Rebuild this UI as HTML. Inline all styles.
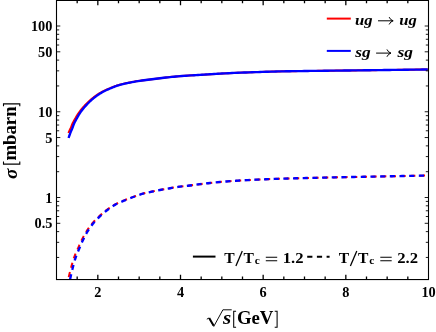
<!DOCTYPE html>
<html><head><meta charset="utf-8"><title>chart</title>
<style>html,body{margin:0;padding:0;background:#fff;}body{width:436px;height:332px;overflow:hidden;font-family:"Liberation Serif",serif;}svg{display:block;will-change:transform;}</style>
</head><body>
<svg width="436" height="332" viewBox="0 0 436 332">
<rect width="436" height="332" fill="#fff"/>
<defs><clipPath id="c"><rect x="56.5" y="0" width="372.0" height="279.5"/></clipPath></defs>
<g clip-path="url(#c)" fill="none" stroke-width="2.35" stroke-linejoin="round">
<path d="M68.47,133.00 L69.01,131.66 L69.56,130.43 L70.10,129.27 L70.62,128.13 L71.13,126.92 L71.66,125.57 L72.20,124.18 L72.76,122.95 L73.31,121.87 L73.85,120.87 L74.39,119.94 L74.91,119.04 L75.44,118.16 L75.96,117.26 L76.49,116.37 L77.02,115.50 L77.55,114.63 L78.08,113.79 L78.61,112.98 L79.15,112.21 L79.68,111.48 L80.21,110.77 L80.73,110.08 L81.26,109.42 L81.79,108.78 L82.31,108.15 L82.84,107.55 L83.36,106.95 L83.89,106.38 L84.41,105.83 L84.93,105.28 L85.45,104.75 L85.96,104.23 L86.48,103.71 L86.99,103.20 L87.51,102.69 L88.02,102.18 L88.54,101.68 L89.06,101.18 L89.58,100.70 L90.10,100.24 L90.62,99.79 L91.13,99.35 L91.64,98.92 L92.16,98.50 L92.67,98.08 L93.18,97.67 L93.70,97.27 L94.21,96.87 L94.72,96.49 L95.24,96.11 L95.75,95.74 L96.26,95.38 L96.78,95.04 L97.29,94.70 L97.80,94.37 L98.31,94.04 L98.82,93.72 L99.33,93.41 L99.84,93.10 L100.35,92.80 L100.86,92.51 L101.36,92.22 L101.87,91.94 L102.38,91.66 L102.89,91.39 L103.40,91.13 L103.91,90.87 L104.41,90.62 L104.92,90.38 L105.43,90.14 L105.93,89.91 L106.44,89.68 L106.95,89.46 L107.45,89.24 L107.96,89.03 L108.46,88.81 L108.96,88.60 L109.47,88.40 L109.97,88.19 L110.48,87.99 L110.98,87.78 L111.48,87.58 L111.98,87.38 L112.49,87.17 L112.99,86.97 L113.49,86.77 L114.00,86.58 L114.50,86.38 L115.00,86.20 L115.51,86.01 L116.01,85.83 L116.52,85.66 L117.02,85.50 L117.53,85.34 L118.03,85.19 L118.53,85.04 L119.04,84.90 L119.54,84.76 L120.04,84.62 L120.54,84.49 L121.05,84.36 L121.55,84.23 L122.05,84.11 L122.55,83.98 L123.05,83.87 L123.56,83.75 L124.06,83.63 L124.56,83.52 L125.06,83.41 L125.56,83.30 L126.06,83.19 L126.57,83.08 L127.07,82.98 L127.57,82.88 L128.07,82.78 L128.57,82.68 L129.07,82.58 L129.57,82.49 L129.97,82.41 L131.98,82.04 L133.98,81.67 L135.98,81.31 L137.98,80.99 L139.99,80.70 L141.99,80.42 L143.99,80.17 L145.99,79.92 L147.99,79.70 L149.99,79.47 L151.99,79.23 L153.99,78.97 L155.99,78.71 L157.99,78.44 L159.99,78.19 L162.00,77.94 L164.00,77.71 L166.00,77.49 L168.00,77.28 L170.00,77.07 L172.00,76.87 L174.00,76.68 L176.00,76.50 L178.00,76.33 L180.00,76.16 L182.00,76.00 L184.00,75.84 L186.00,75.69 L188.00,75.56 L190.00,75.43 L192.00,75.32 L194.00,75.21 L196.00,75.11 L198.00,75.00 L200.00,74.89 L202.00,74.78 L204.00,74.66 L206.00,74.54 L208.00,74.41 L210.00,74.28 L212.00,74.16 L214.00,74.03 L216.00,73.90 L218.00,73.78 L220.00,73.66 L222.00,73.54 L224.00,73.43 L226.00,73.32 L228.00,73.22 L230.00,73.13 L232.00,73.04 L234.00,72.95 L236.00,72.86 L238.00,72.78 L240.00,72.70 L242.00,72.62 L244.00,72.54 L246.00,72.47 L248.00,72.39 L250.00,72.32 L252.00,72.25 L254.00,72.18 L256.00,72.12 L258.00,72.05 L260.00,71.98 L262.00,71.92 L264.00,71.85 L266.00,71.79 L268.00,71.72 L270.00,71.66 L272.00,71.61 L274.00,71.55 L276.00,71.50 L278.00,71.45 L280.00,71.40 L282.00,71.36 L284.00,71.32 L286.00,71.29 L288.00,71.25 L290.00,71.22 L292.00,71.19 L294.00,71.16 L296.00,71.13 L298.00,71.10 L300.00,71.08 L302.00,71.05 L304.00,71.03 L306.00,71.00 L308.00,70.98 L310.00,70.95 L312.00,70.93 L314.00,70.90 L316.00,70.88 L318.00,70.85 L320.00,70.82 L322.00,70.80 L324.00,70.77 L326.00,70.75 L328.00,70.72 L330.00,70.70 L332.00,70.67 L334.00,70.65 L336.00,70.62 L338.00,70.60 L340.00,70.58 L342.00,70.55 L344.00,70.53 L346.00,70.50 L348.00,70.48 L350.00,70.46 L352.00,70.43 L354.00,70.41 L356.00,70.38 L358.00,70.36 L360.00,70.34 L362.00,70.31 L364.00,70.29 L366.00,70.26 L368.00,70.24 L370.00,70.21 L372.00,70.19 L374.00,70.16 L376.00,70.14 L378.00,70.11 L380.00,70.08 L382.00,70.06 L384.00,70.03 L386.00,70.01 L388.00,69.98 L390.00,69.96 L392.00,69.93 L394.00,69.90 L396.00,69.88 L398.00,69.85 L400.00,69.82 L402.00,69.80 L404.00,69.77 L406.00,69.74 L408.00,69.72 L410.00,69.69 L412.00,69.66 L414.00,69.64 L416.00,69.61 L418.00,69.58 L420.00,69.56 L422.00,69.53 L424.00,69.50 L426.00,69.47 L427.80,69.45" stroke="#f00" stroke-width="2"/>
<path d="M68.60,138.00 L69.10,136.47 L69.60,135.00 L70.10,133.60 L70.60,132.29 L71.10,131.07 L71.60,129.91 L72.10,128.74 L72.60,127.48 L73.10,126.09 L73.60,124.73 L74.10,123.55 L74.60,122.50 L75.10,121.53 L75.60,120.60 L76.10,119.70 L76.60,118.80 L77.10,117.90 L77.60,117.00 L78.10,116.12 L78.60,115.25 L79.10,114.42 L79.60,113.61 L80.10,112.85 L80.60,112.12 L81.10,111.41 L81.60,110.72 L82.10,110.06 L82.60,109.42 L83.10,108.79 L83.60,108.18 L84.10,107.59 L84.60,107.01 L85.10,106.45 L85.60,105.90 L86.10,105.36 L86.60,104.83 L87.10,104.31 L87.60,103.78 L88.10,103.26 L88.60,102.74 L89.10,102.23 L89.60,101.73 L90.10,101.25 L90.60,100.78 L91.10,100.33 L91.60,99.89 L92.10,99.45 L92.60,99.02 L93.10,98.59 L93.60,98.17 L94.10,97.77 L94.60,97.36 L95.10,96.97 L95.60,96.59 L96.10,96.22 L96.60,95.85 L97.10,95.50 L97.60,95.15 L98.10,94.82 L98.60,94.48 L99.10,94.16 L99.60,93.84 L100.10,93.53 L100.60,93.22 L101.10,92.92 L101.60,92.62 L102.10,92.34 L102.60,92.05 L103.10,91.78 L103.60,91.51 L104.10,91.25 L104.60,90.99 L105.10,90.74 L105.60,90.50 L106.10,90.26 L106.60,90.03 L107.10,89.80 L107.60,89.57 L108.10,89.35 L108.60,89.13 L109.10,88.92 L109.60,88.71 L110.10,88.49 L110.60,88.28 L111.10,88.07 L111.60,87.86 L112.10,87.66 L112.60,87.45 L113.10,87.24 L113.60,87.04 L114.10,86.84 L114.60,86.64 L115.10,86.45 L115.60,86.26 L116.10,86.08 L116.60,85.90 L117.10,85.73 L117.60,85.57 L118.10,85.41 L118.60,85.26 L119.10,85.11 L119.60,84.97 L120.10,84.83 L120.60,84.69 L121.10,84.56 L121.60,84.43 L122.10,84.30 L122.60,84.17 L123.10,84.05 L123.60,83.93 L124.10,83.81 L124.60,83.69 L125.10,83.58 L125.60,83.47 L126.10,83.35 L126.60,83.25 L127.10,83.14 L127.60,83.04 L128.10,82.93 L128.60,82.83 L129.10,82.73 L129.60,82.63 L130.00,82.55 L132.00,82.17 L134.00,81.79 L136.00,81.42 L138.00,81.09 L140.00,80.79 L142.00,80.51 L144.00,80.25 L146.00,80.00 L148.00,79.76 L150.00,79.53 L152.00,79.28 L154.00,79.02 L156.00,78.75 L158.00,78.49 L160.00,78.23 L162.00,77.98 L164.00,77.75 L166.00,77.52 L168.00,77.31 L170.00,77.10 L172.00,76.90 L174.00,76.71 L176.00,76.52 L178.00,76.35 L180.00,76.18 L182.00,76.01 L184.00,75.86 L186.00,75.71 L188.00,75.57 L190.00,75.44 L192.00,75.33 L194.00,75.22 L196.00,75.11 L198.00,75.01 L200.00,74.90 L202.00,74.79 L204.00,74.67 L206.00,74.54 L208.00,74.42 L210.00,74.29 L212.00,74.16 L214.00,74.03 L216.00,73.90 L218.00,73.78 L220.00,73.66 L222.00,73.54 L224.00,73.43 L226.00,73.32 L228.00,73.23 L230.00,73.13 L232.00,73.04 L234.00,72.95 L236.00,72.87 L238.00,72.78 L240.00,72.70 L242.00,72.62 L244.00,72.54 L246.00,72.47 L248.00,72.39 L250.00,72.32 L252.00,72.25 L254.00,72.18 L256.00,72.12 L258.00,72.05 L260.00,71.98 L262.00,71.92 L264.00,71.85 L266.00,71.79 L268.00,71.72 L270.00,71.66 L272.00,71.61 L274.00,71.55 L276.00,71.50 L278.00,71.45 L280.00,71.40 L282.00,71.36 L284.00,71.32 L286.00,71.29 L288.00,71.25 L290.00,71.22 L292.00,71.19 L294.00,71.16 L296.00,71.13 L298.00,71.10 L300.00,71.08 L302.00,71.05 L304.00,71.03 L306.00,71.00 L308.00,70.98 L310.00,70.95 L312.00,70.93 L314.00,70.90 L316.00,70.88 L318.00,70.85 L320.00,70.82 L322.00,70.80 L324.00,70.77 L326.00,70.75 L328.00,70.72 L330.00,70.70 L332.00,70.67 L334.00,70.65 L336.00,70.62 L338.00,70.60 L340.00,70.58 L342.00,70.55 L344.00,70.53 L346.00,70.50 L348.00,70.48 L350.00,70.46 L352.00,70.43 L354.00,70.41 L356.00,70.38 L358.00,70.36 L360.00,70.34 L362.00,70.31 L364.00,70.29 L366.00,70.26 L368.00,70.24 L370.00,70.21 L372.00,70.19 L374.00,70.16 L376.00,70.14 L378.00,70.11 L380.00,70.08 L382.00,70.06 L384.00,70.03 L386.00,70.01 L388.00,69.98 L390.00,69.96 L392.00,69.93 L394.00,69.90 L396.00,69.88 L398.00,69.85 L400.00,69.82 L402.00,69.80 L404.00,69.77 L406.00,69.74 L408.00,69.72 L410.00,69.69 L412.00,69.66 L414.00,69.64 L416.00,69.61 L418.00,69.58 L420.00,69.56 L422.00,69.53 L424.00,69.50 L426.00,69.47 L427.80,69.45" stroke="#00f"/>
<path d="M67.54,282.64 L68.08,280.05 L68.61,277.57 L69.15,275.24 L69.69,273.00 L70.22,270.84 L70.76,268.76 L71.30,266.77 L71.83,264.86 L72.36,262.99 L72.90,261.18 L73.43,259.46 L73.97,257.83 L74.51,256.34 L75.05,254.95 L75.58,253.66 L76.11,252.44 L76.64,251.27 L77.17,250.12 L77.69,248.96 L78.21,247.78 L78.73,246.59 L79.25,245.39 L79.78,244.21 L80.30,243.04 L80.83,241.89 L81.36,240.78 L81.88,239.71 L82.40,238.67 L82.93,237.65 L83.45,236.65 L83.97,235.67 L84.50,234.71 L85.02,233.78 L85.54,232.88 L86.07,232.01 L86.59,231.18 L87.11,230.37 L87.63,229.58 L88.15,228.81 L88.67,228.06 L89.19,227.32 L89.71,226.61 L90.23,225.91 L90.75,225.24 L91.27,224.58 L91.79,223.94 L92.31,223.31 L92.82,222.71 L93.34,222.13 L93.86,221.55 L94.37,221.00 L94.89,220.45 L95.40,219.92 L95.92,219.40 L96.43,218.89 L96.94,218.39 L97.45,217.90 L97.97,217.41 L98.48,216.93 L98.99,216.46 L99.50,215.98 L100.01,215.52 L100.52,215.06 L101.03,214.60 L101.53,214.15 L102.04,213.70 L102.55,213.26 L103.06,212.82 L103.57,212.40 L104.08,211.98 L104.59,211.56 L105.10,211.15 L105.61,210.75 L106.12,210.36 L106.63,209.97 L107.13,209.60 L107.64,209.23 L108.15,208.86 L108.65,208.49 L109.16,208.13 L109.67,207.77 L110.17,207.42 L110.68,207.08 L111.19,206.74 L111.70,206.41 L112.20,206.08 L112.71,205.76 L113.22,205.45 L113.72,205.15 L114.23,204.86 L114.74,204.58 L115.25,204.31 L115.75,204.04 L116.26,203.79 L116.76,203.54 L117.27,203.30 L117.77,203.07 L118.28,202.84 L118.78,202.61 L119.29,202.39 L119.79,202.17 L120.29,201.96 L120.80,201.75 L121.30,201.54 L121.80,201.33 L122.30,201.13 L122.81,200.92 L123.31,200.72 L123.81,200.51 L124.31,200.30 L124.81,200.10 L125.32,199.90 L125.82,199.69 L126.32,199.49 L126.82,199.29 L127.32,199.10 L127.83,198.90 L128.33,198.71 L128.83,198.51 L129.33,198.32 L129.83,198.13 L129.93,198.09 L131.94,197.34 L133.94,196.61 L135.95,195.87 L137.95,195.14 L139.96,194.46 L141.97,193.86 L143.97,193.33 L145.98,192.85 L147.98,192.40 L149.98,191.96 L151.98,191.53 L153.99,191.12 L155.99,190.71 L157.99,190.32 L159.99,189.94 L161.99,189.57 L163.99,189.21 L165.99,188.86 L167.99,188.51 L169.99,188.18 L171.99,187.85 L173.99,187.52 L176.00,187.20 L178.00,186.90 L180.00,186.62 L182.00,186.38 L184.00,186.16 L186.00,185.95 L188.00,185.73 L190.00,185.49 L192.00,185.24 L194.00,184.96 L196.00,184.68 L198.00,184.41 L200.00,184.15 L202.00,183.91 L204.00,183.68 L206.00,183.45 L208.00,183.22 L210.00,183.00 L212.00,182.78 L214.00,182.57 L216.00,182.36 L218.00,182.17 L220.00,181.97 L222.00,181.79 L224.00,181.62 L226.00,181.46 L228.00,181.31 L230.00,181.17 L232.00,181.03 L234.00,180.90 L236.00,180.77 L238.00,180.65 L240.00,180.53 L242.00,180.41 L244.00,180.30 L246.00,180.20 L248.00,180.09 L250.00,179.99 L252.00,179.89 L254.00,179.80 L256.00,179.70 L258.00,179.61 L260.00,179.52 L262.00,179.43 L264.00,179.34 L266.00,179.26 L268.00,179.18 L270.00,179.10 L272.00,179.02 L274.00,178.94 L276.00,178.87 L278.00,178.80 L280.00,178.73 L282.00,178.67 L284.00,178.61 L286.00,178.55 L288.00,178.49 L290.00,178.43 L292.00,178.38 L294.00,178.32 L296.00,178.27 L298.00,178.22 L300.00,178.17 L302.00,178.12 L304.00,178.07 L306.00,178.03 L308.00,177.98 L310.00,177.93 L312.00,177.89 L314.00,177.84 L316.00,177.80 L318.00,177.75 L320.00,177.70 L322.00,177.66 L324.00,177.61 L326.00,177.57 L328.00,177.53 L330.00,177.48 L332.00,177.44 L334.00,177.40 L336.00,177.36 L338.00,177.31 L340.00,177.27 L342.00,177.23 L344.00,177.19 L346.00,177.15 L348.00,177.11 L350.00,177.07 L352.00,177.03 L354.00,176.99 L356.00,176.95 L358.00,176.91 L360.00,176.87 L362.00,176.83 L364.00,176.79 L366.00,176.75 L368.00,176.71 L370.00,176.67 L372.00,176.63 L374.00,176.59 L376.00,176.55 L378.00,176.51 L380.00,176.47 L382.00,176.43 L384.00,176.39 L386.00,176.35 L388.00,176.31 L390.00,176.27 L392.00,176.23 L394.00,176.20 L396.00,176.16 L398.00,176.12 L400.00,176.08 L402.00,176.04 L404.00,176.00 L406.00,175.96 L408.00,175.92 L410.00,175.89 L412.00,175.85 L414.00,175.81 L416.00,175.77 L418.00,175.73 L420.00,175.70 L422.00,175.66 L424.00,175.62 L426.00,175.58 L427.80,175.55" stroke="#f00" stroke-width="2" stroke-dasharray="5.2 4.48" stroke-dashoffset="4.03"/>
<path d="M69.40,283.00 L69.90,280.41 L70.40,277.94 L70.90,275.62 L71.40,273.39 L71.90,271.24 L72.40,269.17 L72.90,267.19 L73.40,265.28 L73.90,263.41 L74.40,261.61 L74.90,259.90 L75.40,258.30 L75.90,256.83 L76.40,255.47 L76.90,254.19 L77.40,252.98 L77.90,251.81 L78.40,250.65 L78.90,249.48 L79.40,248.28 L79.90,247.08 L80.40,245.87 L80.90,244.68 L81.40,243.51 L81.90,242.37 L82.40,241.26 L82.90,240.19 L83.40,239.15 L83.90,238.13 L84.40,237.12 L84.90,236.14 L85.40,235.19 L85.90,234.26 L86.40,233.37 L86.90,232.50 L87.40,231.67 L87.90,230.86 L88.40,230.07 L88.90,229.30 L89.40,228.55 L89.90,227.81 L90.40,227.10 L90.90,226.40 L91.40,225.72 L91.90,225.06 L92.40,224.42 L92.90,223.80 L93.40,223.20 L93.90,222.61 L94.40,222.03 L94.90,221.47 L95.40,220.93 L95.90,220.39 L96.40,219.87 L96.90,219.35 L97.40,218.84 L97.90,218.35 L98.40,217.85 L98.90,217.37 L99.40,216.89 L99.90,216.41 L100.40,215.94 L100.90,215.47 L101.40,215.01 L101.90,214.55 L102.40,214.10 L102.90,213.65 L103.40,213.21 L103.90,212.78 L104.40,212.35 L104.90,211.93 L105.40,211.52 L105.90,211.12 L106.40,210.72 L106.90,210.33 L107.40,209.95 L107.90,209.57 L108.40,209.20 L108.90,208.83 L109.40,208.46 L109.90,208.10 L110.40,207.74 L110.90,207.39 L111.40,207.05 L111.90,206.71 L112.40,206.38 L112.90,206.06 L113.40,205.75 L113.90,205.44 L114.40,205.15 L114.90,204.87 L115.40,204.59 L115.90,204.33 L116.40,204.07 L116.90,203.82 L117.40,203.57 L117.90,203.33 L118.40,203.10 L118.90,202.87 L119.40,202.64 L119.90,202.42 L120.40,202.21 L120.90,201.99 L121.40,201.78 L121.90,201.57 L122.40,201.36 L122.90,201.15 L123.40,200.94 L123.90,200.73 L124.40,200.52 L124.90,200.31 L125.40,200.10 L125.90,199.89 L126.40,199.69 L126.90,199.49 L127.40,199.29 L127.90,199.09 L128.40,198.89 L128.90,198.69 L129.40,198.50 L129.90,198.30 L130.00,198.26 L132.00,197.50 L134.00,196.76 L136.00,196.00 L138.00,195.27 L140.00,194.58 L142.00,193.97 L144.00,193.44 L146.00,192.94 L148.00,192.49 L150.00,192.04 L152.00,191.61 L154.00,191.19 L156.00,190.78 L158.00,190.39 L160.00,190.00 L162.00,189.63 L164.00,189.26 L166.00,188.90 L168.00,188.55 L170.00,188.22 L172.00,187.88 L174.00,187.55 L176.00,187.23 L178.00,186.93 L180.00,186.65 L182.00,186.40 L184.00,186.18 L186.00,185.97 L188.00,185.75 L190.00,185.51 L192.00,185.25 L194.00,184.98 L196.00,184.69 L198.00,184.42 L200.00,184.16 L202.00,183.92 L204.00,183.69 L206.00,183.46 L208.00,183.23 L210.00,183.01 L212.00,182.79 L214.00,182.58 L216.00,182.37 L218.00,182.17 L220.00,181.98 L222.00,181.80 L224.00,181.63 L226.00,181.46 L228.00,181.31 L230.00,181.17 L232.00,181.03 L234.00,180.90 L236.00,180.77 L238.00,180.65 L240.00,180.53 L242.00,180.42 L244.00,180.30 L246.00,180.20 L248.00,180.09 L250.00,179.99 L252.00,179.89 L254.00,179.80 L256.00,179.70 L258.00,179.61 L260.00,179.52 L262.00,179.43 L264.00,179.34 L266.00,179.26 L268.00,179.18 L270.00,179.10 L272.00,179.02 L274.00,178.94 L276.00,178.87 L278.00,178.80 L280.00,178.73 L282.00,178.67 L284.00,178.61 L286.00,178.55 L288.00,178.49 L290.00,178.43 L292.00,178.38 L294.00,178.32 L296.00,178.27 L298.00,178.22 L300.00,178.17 L302.00,178.12 L304.00,178.07 L306.00,178.03 L308.00,177.98 L310.00,177.93 L312.00,177.89 L314.00,177.84 L316.00,177.80 L318.00,177.75 L320.00,177.70 L322.00,177.66 L324.00,177.61 L326.00,177.57 L328.00,177.53 L330.00,177.48 L332.00,177.44 L334.00,177.40 L336.00,177.36 L338.00,177.31 L340.00,177.27 L342.00,177.23 L344.00,177.19 L346.00,177.15 L348.00,177.11 L350.00,177.07 L352.00,177.03 L354.00,176.99 L356.00,176.95 L358.00,176.91 L360.00,176.87 L362.00,176.83 L364.00,176.79 L366.00,176.75 L368.00,176.71 L370.00,176.67 L372.00,176.63 L374.00,176.59 L376.00,176.55 L378.00,176.51 L380.00,176.47 L382.00,176.43 L384.00,176.39 L386.00,176.35 L388.00,176.31 L390.00,176.27 L392.00,176.23 L394.00,176.20 L396.00,176.16 L398.00,176.12 L400.00,176.08 L402.00,176.04 L404.00,176.00 L406.00,175.96 L408.00,175.92 L410.00,175.89 L412.00,175.85 L414.00,175.81 L416.00,175.77 L418.00,175.73 L420.00,175.70 L422.00,175.66 L424.00,175.62 L426.00,175.58 L427.80,175.55" stroke="#00f" stroke-dasharray="5.2 4.48" stroke-dashoffset="5.93"/>
</g>
<g stroke="#000" stroke-width="1.1" fill="none">
<rect x="56.5" y="0.45" width="372.0" height="279.1"/>
</g>
<path d="M56.5,257.44 h2.7 M428.5,257.44 h-2.7 M56.5,242.34 h2.7 M428.5,242.34 h-2.7 M56.5,231.62 h2.7 M428.5,231.62 h-2.7 M56.5,223.31 h3.8 M428.5,223.31 h-3.8 M56.5,216.52 h2.7 M428.5,216.52 h-2.7 M56.5,210.78 h2.7 M428.5,210.78 h-2.7 M56.5,205.81 h2.7 M428.5,205.81 h-2.7 M56.5,201.42 h2.7 M428.5,201.42 h-2.7 M56.5,197.50 h3.8 M428.5,197.50 h-3.8 M56.5,171.69 h2.7 M428.5,171.69 h-2.7 M56.5,156.59 h2.7 M428.5,156.59 h-2.7 M56.5,145.87 h2.7 M428.5,145.87 h-2.7 M56.5,137.56 h3.8 M428.5,137.56 h-3.8 M56.5,130.77 h2.7 M428.5,130.77 h-2.7 M56.5,125.03 h2.7 M428.5,125.03 h-2.7 M56.5,120.06 h2.7 M428.5,120.06 h-2.7 M56.5,115.67 h2.7 M428.5,115.67 h-2.7 M56.5,111.75 h3.8 M428.5,111.75 h-3.8 M56.5,85.94 h2.7 M428.5,85.94 h-2.7 M56.5,70.84 h2.7 M428.5,70.84 h-2.7 M56.5,60.12 h2.7 M428.5,60.12 h-2.7 M56.5,51.81 h3.8 M428.5,51.81 h-3.8 M56.5,45.02 h2.7 M428.5,45.02 h-2.7 M56.5,39.28 h2.7 M428.5,39.28 h-2.7 M56.5,34.31 h2.7 M428.5,34.31 h-2.7 M56.5,29.92 h2.7 M428.5,29.92 h-2.7 M56.5,26.00 h3.8 M428.5,26.00 h-3.8" stroke="#000" stroke-width="0.9" fill="none"/>
<path d="M77.17,279.5 v-2.9 M77.17,0.45 v2.9 M97.83,279.5 v-4.7 M97.83,0.45 v4.7 M118.50,279.5 v-2.9 M118.50,0.45 v2.9 M139.17,279.5 v-2.9 M139.17,0.45 v2.9 M159.83,279.5 v-2.9 M159.83,0.45 v2.9 M180.50,279.5 v-4.7 M180.50,0.45 v4.7 M201.17,279.5 v-2.9 M201.17,0.45 v2.9 M221.83,279.5 v-2.9 M221.83,0.45 v2.9 M242.50,279.5 v-2.9 M242.50,0.45 v2.9 M263.16,279.5 v-4.7 M263.16,0.45 v4.7 M283.83,279.5 v-2.9 M283.83,0.45 v2.9 M304.50,279.5 v-2.9 M304.50,0.45 v2.9 M325.16,279.5 v-2.9 M325.16,0.45 v2.9 M345.83,279.5 v-4.7 M345.83,0.45 v4.7 M366.50,279.5 v-2.9 M366.50,0.45 v2.9 M387.16,279.5 v-2.9 M387.16,0.45 v2.9 M407.83,279.5 v-2.9 M407.83,0.45 v2.9" stroke="#000" stroke-width="1.3" fill="none"/>
<g font-family="&quot;Liberation Serif&quot;, serif" font-weight="bold" font-size="14.3" fill="#000">
<text x="97.8" y="297.1" text-anchor="middle">2</text>
<text x="180.5" y="297.1" text-anchor="middle">4</text>
<text x="263.2" y="297.1" text-anchor="middle">6</text>
<text x="345.8" y="297.1" text-anchor="middle">8</text>
<text x="428.6" y="297.1" text-anchor="middle">10</text>
<text x="52.4" y="31.1" text-anchor="end">100</text>
<text x="52.4" y="56.9" text-anchor="end">50</text>
<text x="52.4" y="116.8" text-anchor="end">10</text>
<text x="52.4" y="142.7" text-anchor="end">5</text>
<text x="52.4" y="202.6" text-anchor="end">1</text>
<text x="52.4" y="228.4" text-anchor="end">0.5</text>
</g>
<g font-family="&quot;Liberation Serif&quot;, serif" font-weight="bold" font-size="18.8" fill="#000">
<text x="223.0" y="323.7" font-style="italic" textLength="8.2" lengthAdjust="spacingAndGlyphs">s</text>
<text x="236.9" y="323.8">GeV</text>
<path d="M236.1,311.2 H233.7 V327.2 H236.1 M274.7,311.2 H277.1 V327.2 H274.7" fill="none" stroke="#000" stroke-width="1.05"/>
<path d="M206.8,319.2 L208.9,318 L213.8,326.4 L222.9,309.8 L231.7,309.8" fill="none" stroke="#000" stroke-width="0.95"/>
<path d="M209.2,318.0 L213.5,325.6" fill="none" stroke="#000" stroke-width="2.0"/>
<text transform="translate(17.1,179.0) rotate(-90)" font-style="italic" font-size="19" textLength="10.4" lengthAdjust="spacingAndGlyphs">σ</text>
<text transform="translate(16.15,160.45) rotate(-90)" font-size="18.8" textLength="54.0" lengthAdjust="spacingAndGlyphs">mbarn</text>
<path d="M3.5,161.6 V164.1 H19.8 V161.6 M3.5,106.3 V103.9 H19.8 V106.3" fill="none" stroke="#000" stroke-width="1.1"/>
</g>
<g stroke-width="2" fill="none">
<path d="M326.8,18.6 H350.8" stroke="#f00"/>
<path d="M326.8,50.9 H350.8" stroke="#00f"/>
<path d="M192.9,256.6 H215.5" stroke="#000"/>
<path d="M307.2,256.8 H329.6" stroke="#000" stroke-dasharray="5.2 4.5"/>
</g>
<g font-family="&quot;Liberation Serif&quot;, serif" font-weight="bold" font-style="italic" font-size="14" fill="#000">
<text x="355.0" y="24.5" textLength="17.6" lengthAdjust="spacingAndGlyphs">ug</text>
<text x="399.2" y="24.5" textLength="17.6" lengthAdjust="spacingAndGlyphs">ug</text>
<text x="355.3" y="56.8" textLength="15.5" lengthAdjust="spacingAndGlyphs">sg</text>
<text x="397.4" y="56.8" textLength="15.5" lengthAdjust="spacingAndGlyphs">sg</text>
</g>
<path d="M378.0,20.8 H392.9" stroke="#000" stroke-width="1.0" fill="none"/><path d="M389.3,17.5 Q390.4,20.1 393.2,20.8 Q390.4,21.5 389.3,24.1" stroke="#000" stroke-width="1.0" fill="none" stroke-linecap="round"/>
<path d="M376.1,53.1 H390.7" stroke="#000" stroke-width="1.0" fill="none"/><path d="M387.1,49.800000000000004 Q388.2,52.4 391.0,53.1 Q388.2,53.800000000000004 387.1,56.4" stroke="#000" stroke-width="1.0" fill="none" stroke-linecap="round"/>
<g font-family="&quot;Liberation Serif&quot;, serif" font-weight="bold" fill="#000" font-size="14"><text x="224.3" y="262.6" textLength="10.4" lengthAdjust="spacingAndGlyphs">T</text><text x="243.5" y="262.6" textLength="10.4" lengthAdjust="spacingAndGlyphs">T</text><text x="254.70000000000002" y="264.4" font-size="9.6" textLength="5.1" lengthAdjust="spacingAndGlyphs">c</text><text x="282.7" y="262.6" textLength="20.8" lengthAdjust="spacingAndGlyphs">1.2</text></g><path d="M235.9,266 L242.3,250.9" stroke="#000" stroke-width="1.3" fill="none"/><path d="M265.8,257.3 h11.4 M265.8,260.7 h11.4" stroke="#000" stroke-width="1.1" fill="none"/>
<g font-family="&quot;Liberation Serif&quot;, serif" font-weight="bold" fill="#000" font-size="14"><text x="338.8" y="262.6" textLength="10.4" lengthAdjust="spacingAndGlyphs">T</text><text x="358.0" y="262.6" textLength="10.4" lengthAdjust="spacingAndGlyphs">T</text><text x="369.2" y="264.4" font-size="9.6" textLength="5.1" lengthAdjust="spacingAndGlyphs">c</text><text x="397.2" y="262.6" textLength="20.8" lengthAdjust="spacingAndGlyphs">2.2</text></g><path d="M350.40000000000003,266 L356.8,250.9" stroke="#000" stroke-width="1.3" fill="none"/><path d="M380.3,257.3 h11.4 M380.3,260.7 h11.4" stroke="#000" stroke-width="1.1" fill="none"/>
</svg>
</body></html>
